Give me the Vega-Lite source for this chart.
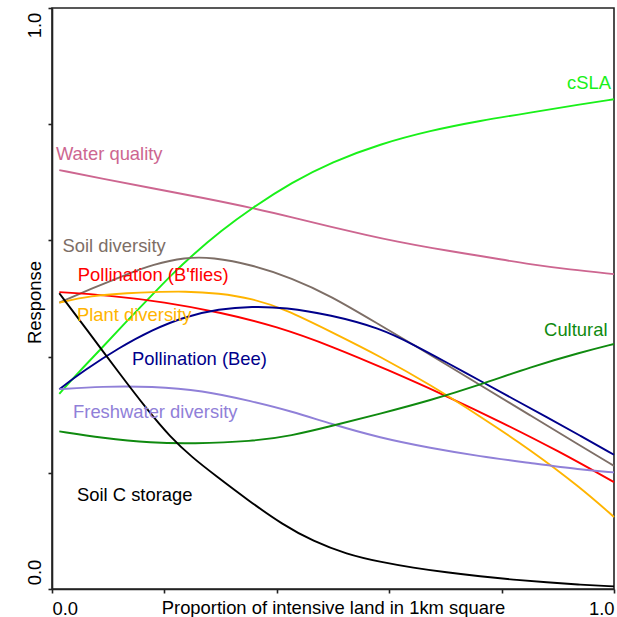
{
  "$schema": "https://vega.github.io/schema/vega-lite/v6.json",
  "width": 562,
  "height": 581,
  "autosize": {"type": "none"},
  "padding": {"left": 52, "top": 8, "right": 3, "bottom": 28},
  "background": "white",
  "config": {
    "font": "Liberation Sans",
    "view": {"stroke": "#222222", "strokeWidth": 1.6},
    "axis": {
      "grid": false,
      "domainColor": "#222222",
      "domainWidth": 1.6,
      "tickColor": "#222222",
      "tickWidth": 1.6,
      "tickSize": 4,
      "labelFont": "Liberation Sans",
      "labelFontSize": 18.4,
      "labelColor": "#000000",
      "titleFont": "Liberation Sans",
      "titleFontSize": 18.4,
      "titleFontWeight": "normal",
      "titleColor": "#000000"
    }
  },
  "datasets": {
    "curves": [
      {"series": "Water quality", "x": 0.013, "y": 0.721},
      {"series": "Water quality", "x": 0.09, "y": 0.706},
      {"series": "Water quality", "x": 0.178, "y": 0.69},
      {"series": "Water quality", "x": 0.27, "y": 0.673},
      {"series": "Water quality", "x": 0.356, "y": 0.656},
      {"series": "Water quality", "x": 0.43, "y": 0.639},
      {"series": "Water quality", "x": 0.498, "y": 0.623},
      {"series": "Water quality", "x": 0.56, "y": 0.609},
      {"series": "Water quality", "x": 0.613, "y": 0.598},
      {"series": "Water quality", "x": 0.68, "y": 0.586},
      {"series": "Water quality", "x": 0.732, "y": 0.578},
      {"series": "Water quality", "x": 0.8, "y": 0.567},
      {"series": "Water quality", "x": 0.851, "y": 0.559},
      {"series": "Water quality", "x": 0.92, "y": 0.55},
      {"series": "Water quality", "x": 1.0, "y": 0.542},

      {"series": "cSLA", "x": 0.013, "y": 0.336},
      {"series": "cSLA", "x": 0.05, "y": 0.376},
      {"series": "cSLA", "x": 0.089, "y": 0.415},
      {"series": "cSLA", "x": 0.13, "y": 0.458},
      {"series": "cSLA", "x": 0.178, "y": 0.506},
      {"series": "cSLA", "x": 0.215, "y": 0.543},
      {"series": "cSLA", "x": 0.249, "y": 0.574},
      {"series": "cSLA", "x": 0.3, "y": 0.616},
      {"series": "cSLA", "x": 0.356, "y": 0.656},
      {"series": "cSLA", "x": 0.427, "y": 0.7},
      {"series": "cSLA", "x": 0.498, "y": 0.735},
      {"series": "cSLA", "x": 0.584, "y": 0.766},
      {"series": "cSLA", "x": 0.673, "y": 0.789},
      {"series": "cSLA", "x": 0.762, "y": 0.806},
      {"series": "cSLA", "x": 0.851, "y": 0.82},
      {"series": "cSLA", "x": 0.94, "y": 0.834},
      {"series": "cSLA", "x": 1.0, "y": 0.843},

      {"series": "Soil diversity", "x": 0.013, "y": 0.493},
      {"series": "Soil diversity", "x": 0.068, "y": 0.516},
      {"series": "Soil diversity", "x": 0.139, "y": 0.544},
      {"series": "Soil diversity", "x": 0.178, "y": 0.558},
      {"series": "Soil diversity", "x": 0.237, "y": 0.571},
      {"series": "Soil diversity", "x": 0.285, "y": 0.571},
      {"series": "Soil diversity", "x": 0.356, "y": 0.558},
      {"series": "Soil diversity", "x": 0.427, "y": 0.535},
      {"series": "Soil diversity", "x": 0.495, "y": 0.505},
      {"series": "Soil diversity", "x": 0.584, "y": 0.454},
      {"series": "Soil diversity", "x": 0.643, "y": 0.4205},
      {"series": "Soil diversity", "x": 0.702, "y": 0.386},
      {"series": "Soil diversity", "x": 0.762, "y": 0.351},
      {"series": "Soil diversity", "x": 0.851, "y": 0.299},
      {"series": "Soil diversity", "x": 0.94, "y": 0.2466},
      {"series": "Soil diversity", "x": 1.0, "y": 0.212},

      {"series": "Pollination (B'flies)", "x": 0.013, "y": 0.511},
      {"series": "Pollination (B'flies)", "x": 0.1, "y": 0.5055},
      {"series": "Pollination (B'flies)", "x": 0.2, "y": 0.494},
      {"series": "Pollination (B'flies)", "x": 0.3, "y": 0.476},
      {"series": "Pollination (B'flies)", "x": 0.4, "y": 0.452},
      {"series": "Pollination (B'flies)", "x": 0.5, "y": 0.417},
      {"series": "Pollination (B'flies)", "x": 0.6, "y": 0.376},
      {"series": "Pollination (B'flies)", "x": 0.7, "y": 0.333},
      {"series": "Pollination (B'flies)", "x": 0.8, "y": 0.287},
      {"series": "Pollination (B'flies)", "x": 0.9, "y": 0.238},
      {"series": "Pollination (B'flies)", "x": 1.0, "y": 0.184},

      {"series": "Plant diversity", "x": 0.013, "y": 0.4928},
      {"series": "Plant diversity", "x": 0.068, "y": 0.505},
      {"series": "Plant diversity", "x": 0.139, "y": 0.5095},
      {"series": "Plant diversity", "x": 0.178, "y": 0.511},
      {"series": "Plant diversity", "x": 0.237, "y": 0.5125},
      {"series": "Plant diversity", "x": 0.297, "y": 0.509},
      {"series": "Plant diversity", "x": 0.356, "y": 0.5},
      {"series": "Plant diversity", "x": 0.415, "y": 0.4815},
      {"series": "Plant diversity", "x": 0.495, "y": 0.4434},
      {"series": "Plant diversity", "x": 0.584, "y": 0.4003},
      {"series": "Plant diversity", "x": 0.673, "y": 0.3516},
      {"series": "Plant diversity", "x": 0.762, "y": 0.297},
      {"series": "Plant diversity", "x": 0.851, "y": 0.2398},
      {"series": "Plant diversity", "x": 0.94, "y": 0.175},
      {"series": "Plant diversity", "x": 1.0, "y": 0.124},

      {"series": "Pollination (Bee)", "x": 0.013, "y": 0.344},
      {"series": "Pollination (Bee)", "x": 0.059, "y": 0.3774},
      {"series": "Pollination (Bee)", "x": 0.119, "y": 0.415},
      {"series": "Pollination (Bee)", "x": 0.178, "y": 0.446},
      {"series": "Pollination (Bee)", "x": 0.237, "y": 0.469},
      {"series": "Pollination (Bee)", "x": 0.297, "y": 0.482},
      {"series": "Pollination (Bee)", "x": 0.356, "y": 0.4864},
      {"series": "Pollination (Bee)", "x": 0.415, "y": 0.4846},
      {"series": "Pollination (Bee)", "x": 0.495, "y": 0.472},
      {"series": "Pollination (Bee)", "x": 0.584, "y": 0.449},
      {"series": "Pollination (Bee)", "x": 0.643, "y": 0.4205},
      {"series": "Pollination (Bee)", "x": 0.702, "y": 0.39},
      {"series": "Pollination (Bee)", "x": 0.762, "y": 0.3585},
      {"series": "Pollination (Bee)", "x": 0.821, "y": 0.327},
      {"series": "Pollination (Bee)", "x": 0.88, "y": 0.296},
      {"series": "Pollination (Bee)", "x": 0.94, "y": 0.2639},
      {"series": "Pollination (Bee)", "x": 1.0, "y": 0.231},

      {"series": "Freshwater diversity", "x": 0.013, "y": 0.344},
      {"series": "Freshwater diversity", "x": 0.089, "y": 0.3487},
      {"series": "Freshwater diversity", "x": 0.178, "y": 0.3487},
      {"series": "Freshwater diversity", "x": 0.267, "y": 0.342},
      {"series": "Freshwater diversity", "x": 0.356, "y": 0.323},
      {"series": "Freshwater diversity", "x": 0.427, "y": 0.3057},
      {"series": "Freshwater diversity", "x": 0.495, "y": 0.2845},
      {"series": "Freshwater diversity", "x": 0.584, "y": 0.26},
      {"series": "Freshwater diversity", "x": 0.673, "y": 0.2427},
      {"series": "Freshwater diversity", "x": 0.762, "y": 0.2282},
      {"series": "Freshwater diversity", "x": 0.851, "y": 0.2169},
      {"series": "Freshwater diversity", "x": 0.94, "y": 0.2053},
      {"series": "Freshwater diversity", "x": 1.0, "y": 0.2007},

      {"series": "Cultural", "x": 0.013, "y": 0.2713},
      {"series": "Cultural", "x": 0.089, "y": 0.2599},
      {"series": "Cultural", "x": 0.178, "y": 0.2513},
      {"series": "Cultural", "x": 0.249, "y": 0.25},
      {"series": "Cultural", "x": 0.356, "y": 0.254},
      {"series": "Cultural", "x": 0.427, "y": 0.2639},
      {"series": "Cultural", "x": 0.495, "y": 0.28},
      {"series": "Cultural", "x": 0.584, "y": 0.3017},
      {"series": "Cultural", "x": 0.673, "y": 0.3246},
      {"series": "Cultural", "x": 0.762, "y": 0.3516},
      {"series": "Cultural", "x": 0.851, "y": 0.382},
      {"series": "Cultural", "x": 0.94, "y": 0.407},
      {"series": "Cultural", "x": 1.0, "y": 0.4217},

      {"series": "Soil C storage", "x": 0.013, "y": 0.509},
      {"series": "Soil C storage", "x": 0.06, "y": 0.449},
      {"series": "Soil C storage", "x": 0.12, "y": 0.371},
      {"series": "Soil C storage", "x": 0.17, "y": 0.308},
      {"series": "Soil C storage", "x": 0.21, "y": 0.262},
      {"series": "Soil C storage", "x": 0.25, "y": 0.226},
      {"series": "Soil C storage", "x": 0.29, "y": 0.196},
      {"series": "Soil C storage", "x": 0.35, "y": 0.152},
      {"series": "Soil C storage", "x": 0.41, "y": 0.111},
      {"series": "Soil C storage", "x": 0.465, "y": 0.082},
      {"series": "Soil C storage", "x": 0.524, "y": 0.06},
      {"series": "Soil C storage", "x": 0.584, "y": 0.0465},
      {"series": "Soil C storage", "x": 0.643, "y": 0.0365},
      {"series": "Soil C storage", "x": 0.702, "y": 0.0286},
      {"series": "Soil C storage", "x": 0.762, "y": 0.0217},
      {"series": "Soil C storage", "x": 0.821, "y": 0.016},
      {"series": "Soil C storage", "x": 0.88, "y": 0.0114},
      {"series": "Soil C storage", "x": 0.94, "y": 0.0074},
      {"series": "Soil C storage", "x": 1.0, "y": 0.0045}
    ],
    "labels": [
      {"series": "Water quality", "x": 0.007, "y": 0.739},
      {"series": "Soil diversity", "x": 0.0187, "y": 0.5797},
      {"series": "Pollination (B'flies)", "x": 0.046, "y": 0.5298},
      {"series": "Plant diversity", "x": 0.0445, "y": 0.4618},
      {"series": "Pollination (Bee)", "x": 0.1423, "y": 0.386},
      {"series": "Freshwater diversity", "x": 0.0374, "y": 0.2943},
      {"series": "Soil C storage", "x": 0.0445, "y": 0.152},
      {"series": "cSLA", "x": 0.9947, "y": 0.8603},
      {"series": "Cultural", "x": 0.9884, "y": 0.4351}
    ]
  },
  "encoding": {
    "x": {
      "field": "x",
      "type": "quantitative",
      "scale": {"domain": [0, 1], "nice": false, "zero": false},
      "axis": {
        "values": [0, 0.2, 0.4, 0.6, 0.8, 1],
        "labelExpr": "datum.value == 0 ? '0.0' : datum.value == 1 ? '1.0' : ''",
        "labelFlush": true,
        "labelPadding": 6,
        "title": "Proportion of intensive land in 1km square",
        "titleY": 24,
        "titleBaseline": "alphabetic"
      }
    },
    "y": {
      "field": "y",
      "type": "quantitative",
      "scale": {"domain": [0, 1], "nice": false, "zero": false},
      "axis": {
        "values": [0, 0.2, 0.4, 0.6, 0.8, 1],
        "labelExpr": "datum.value == 0 ? '0.0' : datum.value == 1 ? '1.0' : ''",
        "labelAngle": 270,
        "labelAlign": "center",
        "labelBaseline": "bottom",
        "labelPadding": 4,
        "labelOffset": {"condition": {"test": "datum.value == 1", "value": 17}, "value": -17},
        "title": "Response",
        "titleAngle": 270,
        "titleX": -12,
        "titleY": 294,
        "titleAlign": "center",
        "titleBaseline": "alphabetic"
      }
    },
    "color": {
      "field": "series",
      "type": "nominal",
      "scale": {
        "domain": ["Water quality", "cSLA", "Soil diversity", "Pollination (B'flies)", "Plant diversity", "Pollination (Bee)", "Freshwater diversity", "Cultural", "Soil C storage"],
        "range": ["#CD6690", "#19F019", "#7D6E66", "#FF0000", "#FFB400", "#00008B", "#9080D8", "#0F8A0F", "#000000"]
      },
      "legend": null
    }
  },
  "layer": [
    {
      "data": {"name": "curves"},
      "mark": {"type": "line", "strokeWidth": 1.9, "interpolate": "basis"},
      "encoding": {"detail": {"field": "series"}}
    },
    {
      "data": {"name": "labels"},
      "transform": [{"filter": {"not": {"field": "series", "oneOf": ["cSLA", "Cultural"]}}}],
      "mark": {"type": "text", "align": "left", "baseline": "alphabetic", "fontSize": 18.4, "font": "Liberation Sans"},
      "encoding": {"text": {"field": "series"}}
    },
    {
      "data": {"name": "labels"},
      "transform": [{"filter": {"field": "series", "oneOf": ["cSLA", "Cultural"]}}],
      "mark": {"type": "text", "align": "right", "baseline": "alphabetic", "fontSize": 18.4, "font": "Liberation Sans"},
      "encoding": {"text": {"field": "series"}}
    }
  ]
}
